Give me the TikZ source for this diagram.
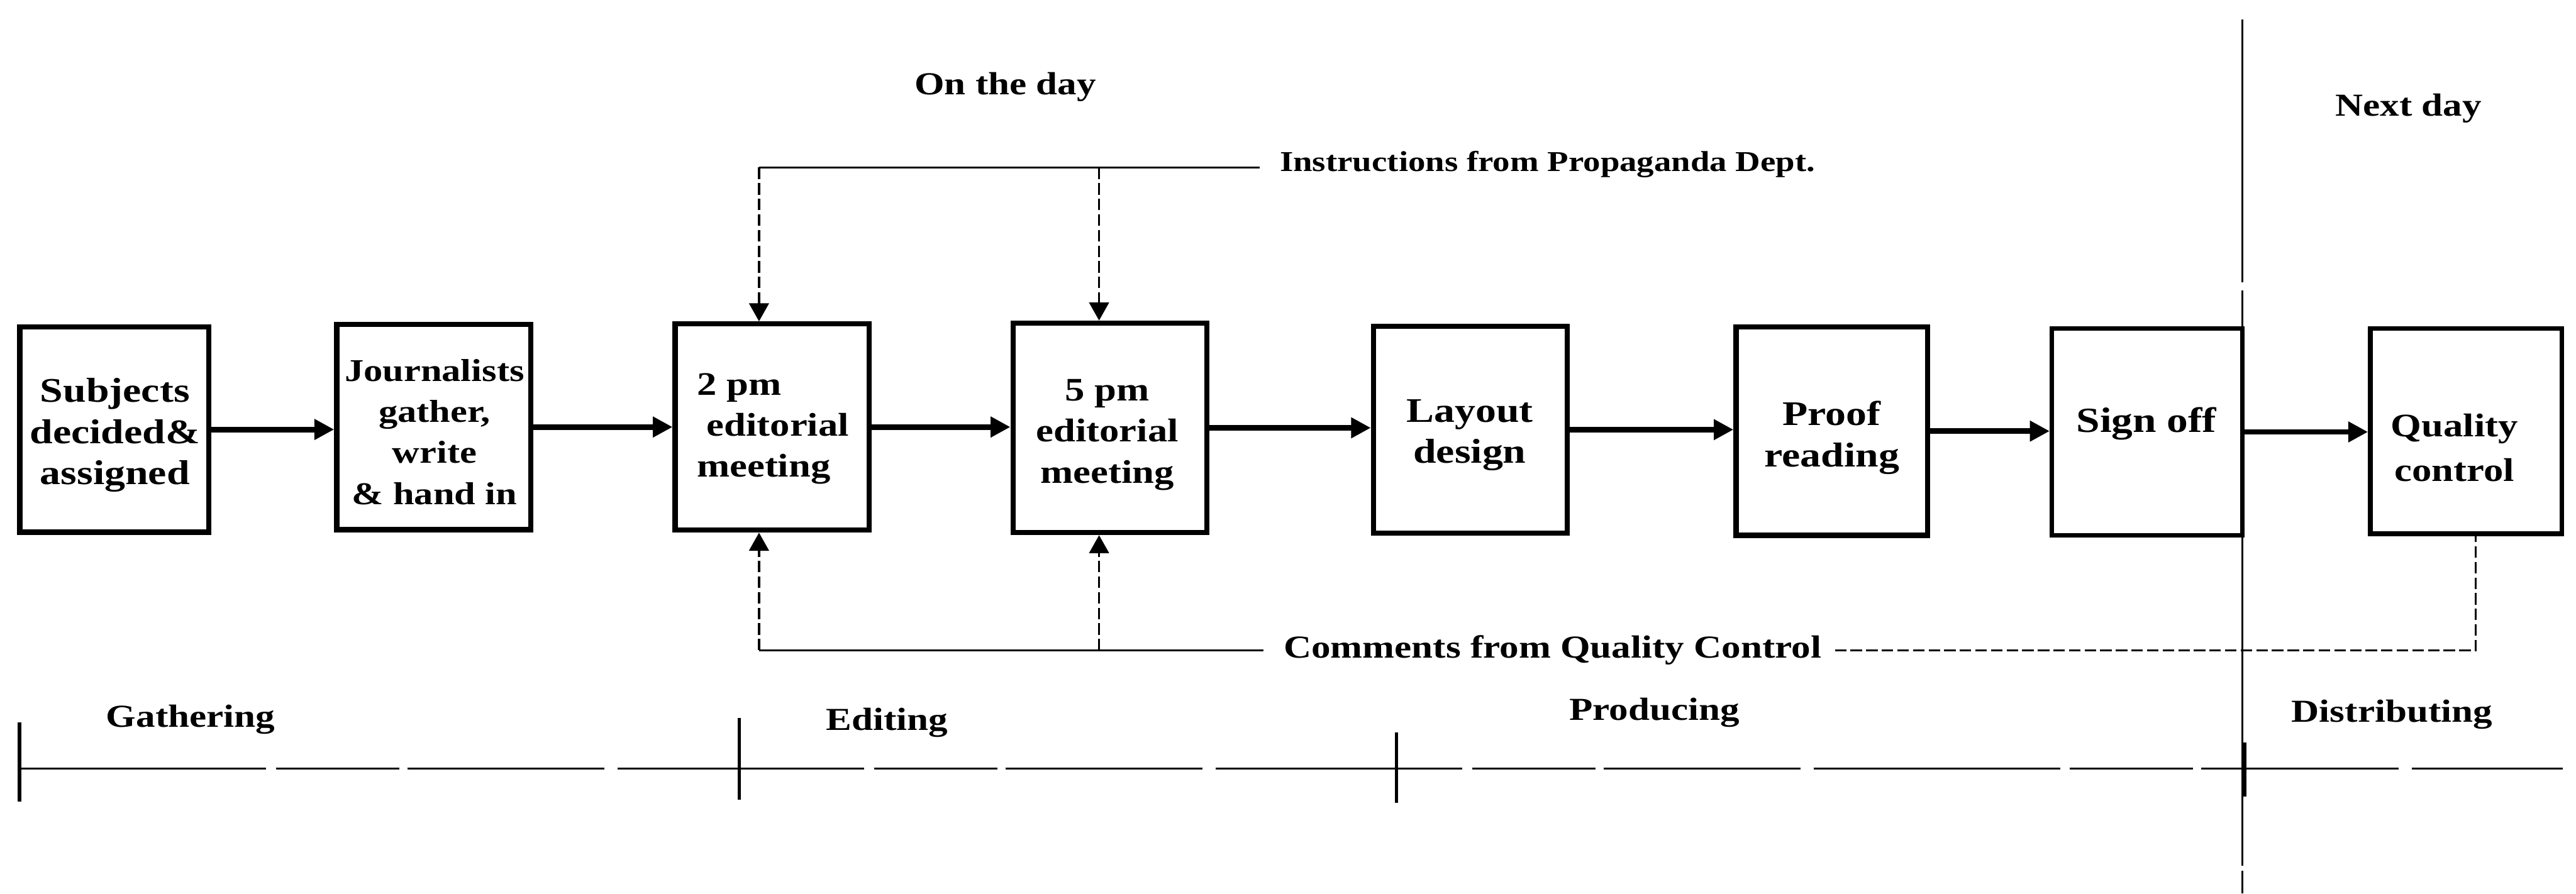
\documentclass[tikz,border=0pt]{standalone}
\usepackage{fontspec}
\setmainfont{Liberation Serif}[FakeStretch=1.2]
\usetikzlibrary{arrows.meta}
\begin{document}
\begin{tikzpicture}[x=1pt,y=-1pt,
  box/.style={draw,line width=3.2pt,minimum width=118pt,minimum height=126pt,inner sep=0pt},
  boxr/.style={box,line width=2.8pt},
  boxtxt/.style={inner sep=0pt,align=center,font=\bfseries\fontsize{21}{25}\selectfont},
  flow/.style={line width=3.4pt,-{Triangle[length=12pt,width=12pt]}},
  fb/.style={line width=1.3pt},
  fbd/.style={line width=1.3pt,dash pattern=on 7pt off 2.5pt},
  fbarrow/.style={fbd,-{Triangle[length=11pt,width=12pt]}},
  lbl/.style={font=\bfseries\fontsize{19.5}{22}\selectfont,inner sep=0pt},
  phase/.style={line width=2.2pt},
]
\useasboundingbox (0,0) rectangle (1568,544);

% process boxes
\node[box,minimum width=115pt,minimum height=125pt] (b1) at (69.5,261.5) {};
\node[box,minimum height=125pt] (b2) at (264,260) {};
\node[box,minimum height=125.5pt] (b3) at (470,260) {};
\node[box,minimum height=127.5pt] (b4) at (675.6,260.5) {};
\node[box] (b5) at (895,261.6) {};
\node[box,minimum width=116.5pt,minimum height=127pt] (b6) at (1115,262.5) {};
\node[boxr,minimum width=116pt] (b7) at (1307,263) {};
\node[boxr,minimum width=116.5pt,minimum height=125pt] (b8) at (1501,262.5) {};

% box texts
\node[boxtxt] (t1) at (70,265) {Subjects\\decided\&\\assigned};
\node[boxtxt,font=\bfseries\fontsize{19.3}{25}\selectfont] (t2) at (264.5,263) {Journalists\\gather,\\write\\\& hand in};
\node[boxtxt,align=left,anchor=west,font=\bfseries\fontsize{20}{25}\selectfont] (t3) at (424,261) {2 pm\\\hspace*{6pt}editorial\\meeting};
\node[boxtxt,font=\bfseries\fontsize{20}{25}\selectfont] (t4) at (674,264.7) {5 pm\\editorial\\meeting};
\node[boxtxt] (t5) at (894.6,265) {Layout\\design};
\node[boxtxt] (t6) at (1115,266.5) {Proof\\reading};
\node[boxtxt,font=\bfseries\fontsize{21.5}{25}\selectfont] (t7) at (1306.5,258) {Sign off};
\node[boxtxt,font=\bfseries\fontsize{20}{27}\selectfont] (t8) at (1494,272.7) {Quality\\control};

% main flow
\draw[flow] (b1.east) -- (b1.east -| b2.west);
\draw[flow] (b2.east) -- (b2.east -| b3.west);
\draw[flow] (b3.east) -- (b3.east -| b4.west);
\draw[flow] (b4.east) -- (b4.east -| b5.west);
\draw[flow] (b5.east) -- (b5.east -| b6.west);
\draw[flow] (b6.east) -- (b6.east -| b7.west);
\draw[flow] (b7.east) -- (b7.east -| b8.west);

% headings
\node[lbl] (onday) at (612,53) {On the day};
\node[lbl] (nextday) at (1466,66) {Next day};

% instructions feedback
\node[lbl,font=\bfseries\fontsize{17.5}{20}\selectfont] (ins) at (942,100) {Instructions from Propaganda Dept.};
\coordinate (tl) at (462,102);
\coordinate (tm) at (669,102);
\draw[fb] (tl) -- ([xshift=-12pt]ins.west |- tl);
\draw[fbarrow] (tl) -- (tl |- b3.north);
\draw[fbarrow] (tm) -- (tm |- b4.north);

% comments feedback
\node[lbl] (com) at (945,396) {Comments from Quality Control};
\coordinate (bl) at (462,396);
\coordinate (bm) at (669,396);
\coordinate (br) at (1507,396);
\draw[fb] (bl) -- ([xshift=-12pt]com.west |- bl);
\draw[fbarrow] (bl) -- (bl |- b3.south);
\draw[fbarrow] (bm) -- (bm |- b4.south);
\draw[fbd] ([xshift=8pt]com.east |- br) -- (br) -- (br |- b8.south);

% day divider
\draw[line width=1.3pt,dash pattern=on 160pt off 5pt on 350pt off 3pt] (1365,12) -- (1365,544);
\draw[line width=2.6pt] (1366,452) -- (1366,485);

% phase timeline
\draw[line width=1.4pt,dash pattern=on 150pt off 6pt on 75pt off 5pt on 120pt off 8pt] (12,468) -- (1560,468);
\draw[phase] (12,440) -- (12,488);
\draw[phase] (450,437) -- (450,487);
\draw[phase] (850,446) -- (850,489);

\node[lbl] (gath) at (116,438) {Gathering};
\node[lbl] (edit) at (540,440) {Editing};
\node[lbl] (prod) at (1007,434) {Producing};
\node[lbl] (dist) at (1456,435) {Distributing};
\end{tikzpicture}
\end{document}
